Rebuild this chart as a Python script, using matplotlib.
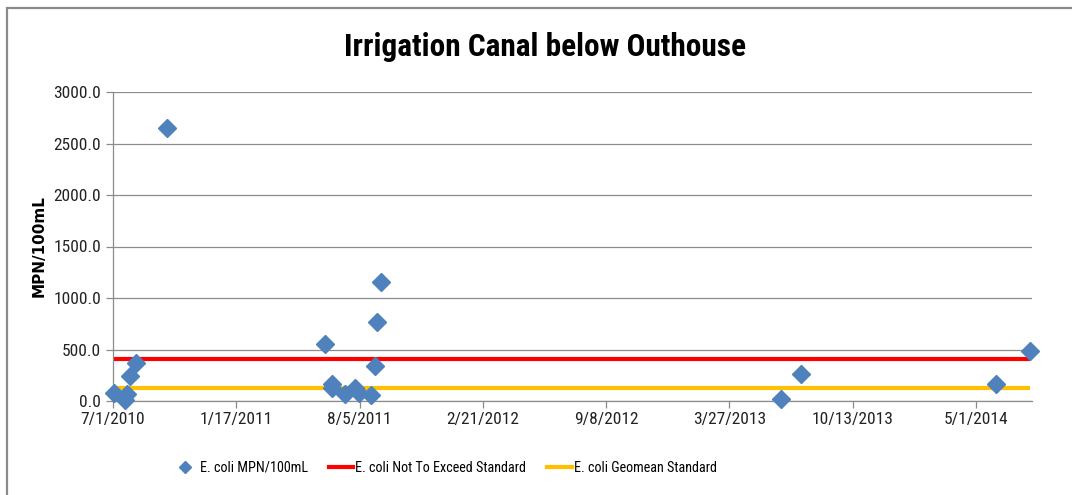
import matplotlib
matplotlib.use("Agg")
import matplotlib.pyplot as plt
from matplotlib import font_manager
from matplotlib.patches import Rectangle
from matplotlib.lines import Line2D
from datetime import date, timedelta

# -------- Sample data --------
sample_dates = [
    date(2010, 7, 2), date(2010, 7, 20), date(2010, 7, 24), date(2010, 7, 29),
    date(2010, 8, 7), date(2010, 9, 27), date(2011, 6, 10), date(2011, 6, 21),
    date(2011, 6, 22), date(2011, 7, 13), date(2011, 7, 28), date(2011, 8, 4),
    date(2011, 8, 23), date(2011, 8, 30), date(2011, 9, 2), date(2011, 9, 9),
    date(2013, 6, 18), date(2013, 7, 22), date(2014, 6, 2), date(2014, 7, 27),
]
ecoli = [75, 10, 68, 243, 372, 2650, 553, 123, 165, 68,
         123, 75, 58, 340, 764, 1152, 19, 259, 168, 488]

not_to_exceed = 409
geomean_std = 126

axis_start = date(2010, 7, 1)
axis_end = date(2014, 7, 31)
tick_step_days = 200

# pick a narrow face if one is installed
names = {f.name for f in font_manager.fontManager.ttflist}
narrow = [n for n in ["Liberation Sans Narrow", "Roboto Condensed",
                      "Open Sans Condensed", "DejaVu Sans Condensed"] if n in names]
font_narrow = narrow + ["DejaVu Sans"]
stretch = "normal" if narrow else "condensed"

blue = "#4F81BD"
red = "#FF0000"
gold = "#FFC000"
grid_gray = "#8C8C8C"

W, H = 1072, 495
fig = plt.figure(figsize=(W / 100, H / 100), dpi=100)
ax = fig.add_axes([113 / W, (H - 401) / H, (1032 - 113) / W, (401 - 92) / H])

# outer chart border
fig.patches.append(Rectangle((6.5 / W, -0.05), 1.2, (H - 7.5) / H + 0.05,
                             transform=fig.transFigure, fill=False,
                             edgecolor="#8A8A8A", lw=1.6, zorder=0))

span = [sample_dates[0], sample_dates[-1]]
ax.plot(span, [not_to_exceed] * 2, color=red, lw=3, solid_capstyle="butt", zorder=2)
ax.plot(span, [geomean_std] * 2, color=gold, lw=3, solid_capstyle="butt", zorder=2)
ax.plot(sample_dates, ecoli, linestyle="none", marker="D", ms=9.5,
        color=blue, mec=blue, zorder=3, clip_on=False)

ax.set_xlim(axis_start, axis_end)
ax.set_ylim(0, 3000)
ax.set_yticks(range(0, 3001, 500))
ax.set_yticklabels([f"{v:.1f}" for v in range(0, 3001, 500)])

ticks = []
d = axis_start
while d <= axis_end:
    ticks.append(d)
    d += timedelta(days=tick_step_days)
ax.set_xticks(ticks)
ax.set_xticklabels([f"{t.month}/{t.day}/{t.year}" for t in ticks])

ax.grid(axis="y", color=grid_gray, lw=0.9)
ax.set_axisbelow(True)
for s in ["top", "right"]:
    ax.spines[s].set_visible(False)
for s in ["left", "bottom"]:
    ax.spines[s].set_color(grid_gray)
    ax.spines[s].set_linewidth(0.9)
ax.tick_params(axis="both", colors=grid_gray, length=5, width=0.9,
               labelcolor="#222222", labelsize=12.5)
for lab in ax.get_xticklabels() + ax.get_yticklabels():
    lab.set_family(font_narrow)
    lab.set_stretch(stretch)
ax.tick_params(axis="x", pad=3)

ax.set_ylabel("MPN/100mL", fontsize=11, fontweight="bold",
              family=["DejaVu Sans"], stretch=stretch)
ax.yaxis.set_label_coords(-66 / (1032 - 113), 0.5)

fig.text(545 / W, 1 - 47 / H, "Irrigation Canal below Outhouse",
         ha="center", va="center", fontsize=22.5, fontweight="bold",
         family=font_narrow, stretch=stretch, color="#000000")

handles = [
    Line2D([], [], linestyle="none", marker="D", ms=6, color=blue),
    Line2D([], [], color=red, lw=3),
    Line2D([], [], color=gold, lw=3),
]
labels = ["E. coli MPN/100mL", "E. coli Not To Exceed Standard",
          "E. coli Geomean Standard"]
fig.legend(handles, labels, loc="center", bbox_to_anchor=(445 / W, 1 - 468 / H),
           ncol=3, frameon=False, handlelength=1.7, handletextpad=0.15,
           columnspacing=1.5,
           prop={"family": font_narrow, "size": 10.2, "stretch": stretch})

fig.savefig("out.png", dpi=100)
